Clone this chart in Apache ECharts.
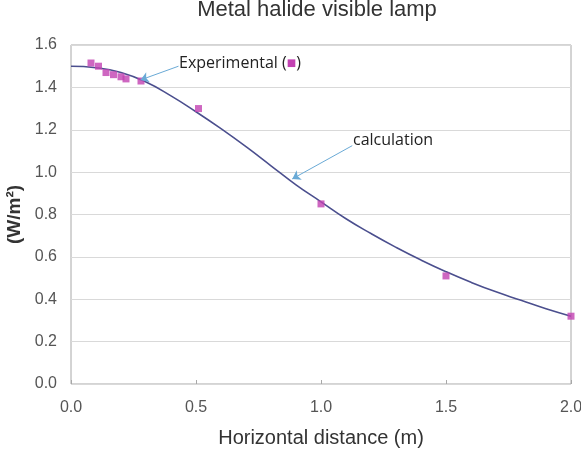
<!DOCTYPE html>
<html>
<head>
<meta charset="utf-8">
<script src="https://cdn.jsdelivr.net/npm/echarts@6/dist/echarts.min.js"></script>
<style>
  html, body { margin: 0; padding: 0; background: #fff; }
  #chart { width: 581px; height: 450px; }
</style>
</head>
<body>
<div id="chart"></div>
<script>
// measured points (x in m, irradiance in W/m2)
var expX = [0.08, 0.11, 0.14, 0.17, 0.20, 0.22, 0.28, 0.51, 1.0, 1.5, 2.0];
var expY = [1.515, 1.50, 1.47, 1.46, 1.45, 1.44, 1.43, 1.30, 0.85, 0.51, 0.32];

// calculated curve
var calcX = [0, 0.1, 0.2, 0.3, 0.4, 0.5, 0.6, 0.7, 0.8, 0.9, 1.0, 1.1, 1.2, 1.3, 1.4, 1.5, 1.6, 1.7, 1.8, 1.9, 2.0];
var calcY = [1.50, 1.493, 1.47, 1.425, 1.36, 1.285, 1.205, 1.12, 1.03, 0.94, 0.86, 0.78, 0.71, 0.645, 0.585, 0.53, 0.48, 0.435, 0.395, 0.355, 0.32];

var xTicks = [0, 0.5, 1.0, 1.5, 2.0];
var yTicks = [0, 0.2, 0.4, 0.6, 0.8, 1.0, 1.2, 1.4, 1.6];

var chart = echarts.init(document.getElementById('chart'));

var expData = expX.map(function (x, i) { return [x, expY[i]]; });
var calcData = calcX.map(function (x, i) { return [x, calcY[i]]; });

var arrowStyle = { color: '#6aaad6', width: 1, type: 'solid' };

var option = {
  backgroundColor: '#fff',
  animation: false,
  title: {
    text: 'Metal halide visible lamp',
    left: 312,
    textAlign: 'center',
    top: -6,
    textStyle: { fontFamily: 'Liberation Sans', fontSize: 22, fontWeight: 'normal', color: '#333' }
  },
  grid: {
    left: 71, right: 10, top: 45, bottom: 66,
    outerBoundsMode: 'none', containLabel: false,
    show: true, borderColor: '#a8a8a8', borderWidth: 1
  },
  xAxis: {
    type: 'value',
    min: xTicks[0],
    max: xTicks[xTicks.length - 1],
    interval: 0.5,
    name: 'Horizontal distance (m)',
    nameLocation: 'middle',
    nameGap: 44,
    nameTextStyle: { fontFamily: 'Liberation Sans', fontSize: 20, color: '#333' },
    axisLine: { show: false },
    axisTick: { show: true, inside: true, length: 4, lineStyle: { color: '#a8a8a8' } },
    splitLine: { show: false },
    axisLabel: {
      margin: 16, fontFamily: 'Liberation Sans', fontSize: 16, color: '#555',
      formatter: function (v) { return v.toFixed(1); }
    }
  },
  yAxis: {
    type: 'value',
    min: yTicks[0],
    max: yTicks[yTicks.length - 1],
    interval: 0.2,
    name: '(W/m²)',
    nameLocation: 'middle',
    nameGap: 46,
    nameTextStyle: { fontFamily: 'Liberation Sans', fontSize: 19, fontWeight: 'bold', color: '#333' },
    axisLine: { show: false },
    axisTick: { show: false },
    splitLine: { show: true, lineStyle: { color: '#d9d9d9', width: 1 } },
    axisLabel: {
      margin: 14, fontFamily: 'Liberation Sans', fontSize: 16, color: '#555',
      formatter: function (v) { return v.toFixed(1); }
    }
  },
  series: [
    {
      name: 'calculation',
      type: 'line',
      data: calcData,
      smooth: true,
      showSymbol: false,
      lineStyle: { color: '#4b4f8e', width: 1.6 },
      z: 2,
      markLine: {
        silent: true,
        symbol: ['none', 'arrow'],
        symbolSize: 8,
        label: { show: false },
        lineStyle: arrowStyle,
        data: [
          [{ coord: [0.43, 1.50] }, { coord: [0.278, 1.435] }],
          [{ coord: [1.125, 1.125] }, { coord: [0.885, 0.968] }]
        ]
      }
    },
    {
      name: 'Experimental',
      type: 'scatter',
      data: expData,
      symbol: 'rect',
      symbolSize: 7,
      itemStyle: { color: '#c241b2' },
      z: 3
    }
  ],
  graphic: [
    {
      type: 'text', left: 179, top: 55,
      style: {
        text: 'Experimental ({sq|■})',
        rich: { sq: { fontSize: 10, fill: '#c241b2', fontFamily: 'DejaVu Sans' } },
        fontFamily: 'Open Sans', fontSize: 16, fill: '#222'
      }
    },
    {
      type: 'text', left: 353, top: 132,
      style: { text: 'calculation', fontFamily: 'Open Sans', fontSize: 16, fill: '#222' }
    }
  ]
};

chart.setOption(option);
</script>
</body>
</html>
